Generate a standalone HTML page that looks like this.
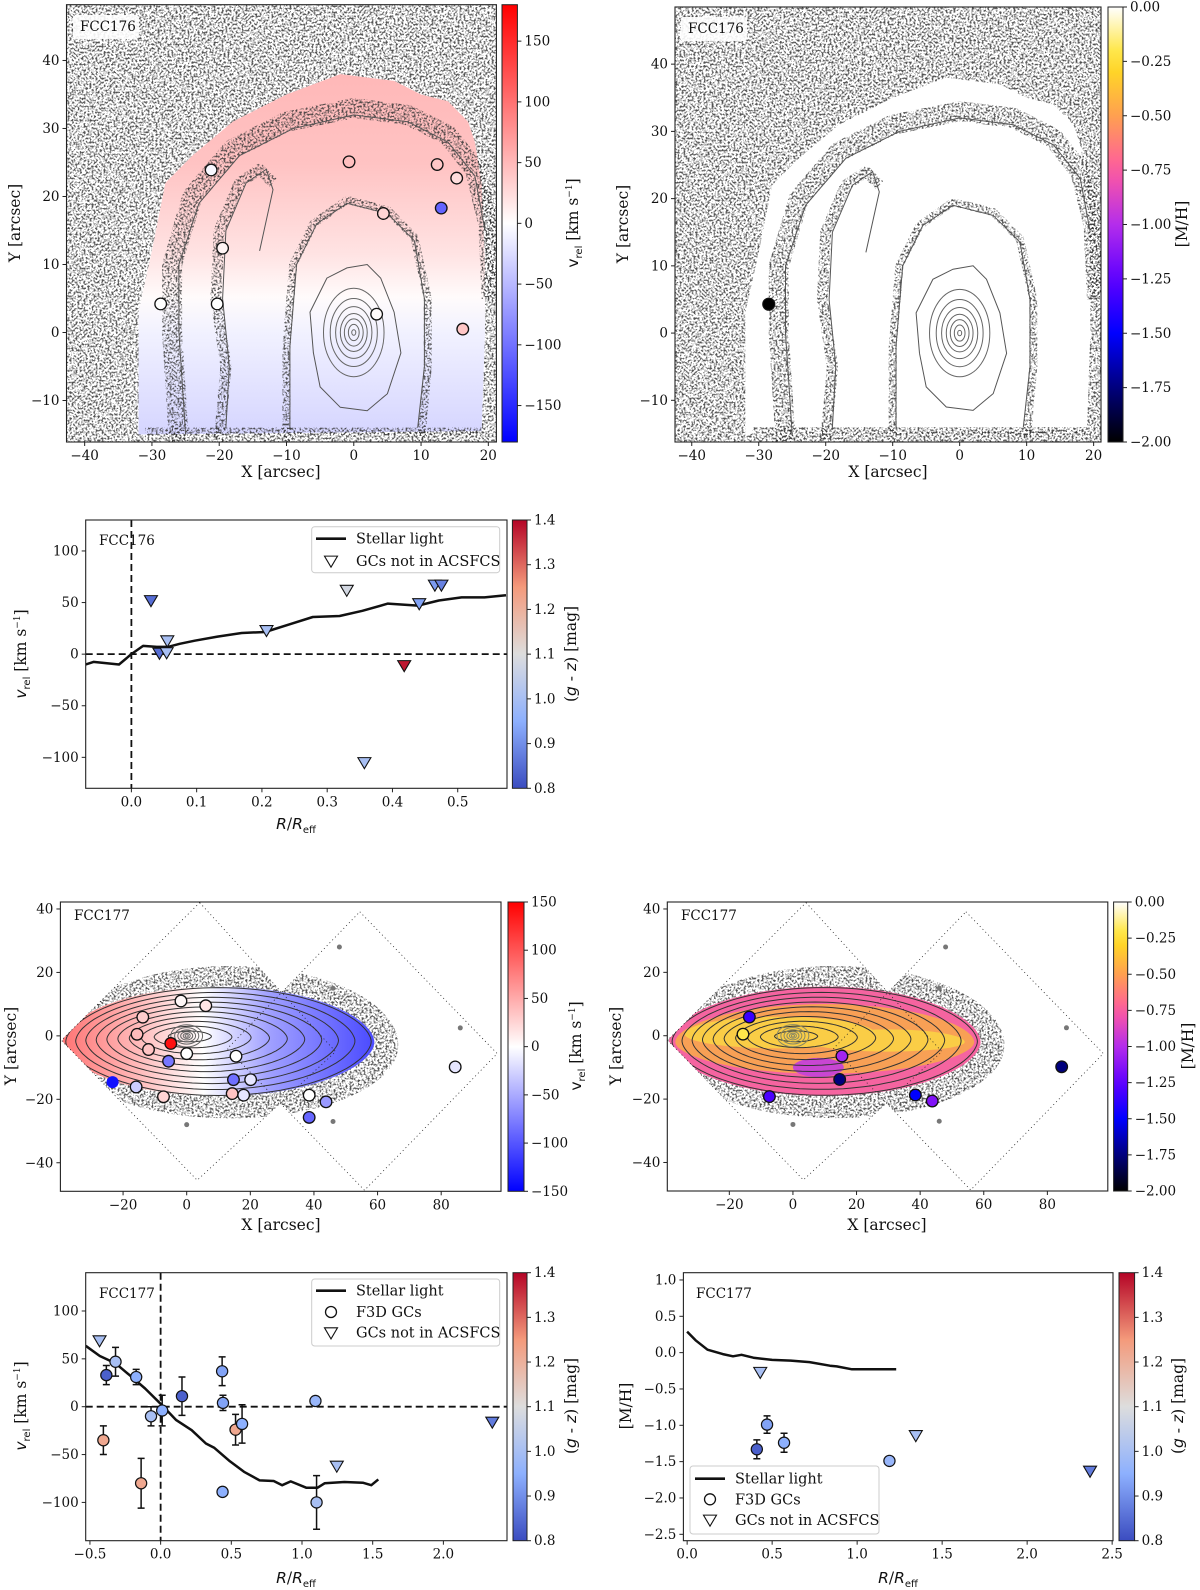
<!DOCTYPE html>
<html><head><meta charset="utf-8"><title>FCC176 / FCC177 GC kinematics</title>
<style>
html,body{margin:0;padding:0;background:#fff;}
svg{display:block;font-family:"DejaVu Serif","Liberation Serif",serif;}
.lab{font-size:15.5px;fill:#111;}
.leg{font-size:14.5px;fill:#111;}
.tk{font-size:13.5px;fill:#111;}
</style></head>
<body>
<svg id="fig" xmlns="http://www.w3.org/2000/svg" width="1200" height="1590" viewBox="0 0 1200 1590">
<defs>
<filter id="spk" filterUnits="userSpaceOnUse" x="0" y="0" width="1200" height="1590" color-interpolation-filters="sRGB">
<feTurbulence type="fractalNoise" baseFrequency="0.5" numOctaves="2" seed="5" result="n"/>
<feColorMatrix in="n" type="matrix" values="0 0 0 0 0.2  0 0 0 0 0.2  0 0 0 0 0.2  -2.6 0 0 0 1.56" result="a"/>
<feComponentTransfer in="a" result="b"><feFuncA type="discrete" tableValues="0 0.55 0.85"/></feComponentTransfer>
<feComposite in="b" in2="SourceAlpha" operator="in"/>
</filter>
</defs>

<g>
<text class="lab" x="281" y="477" text-anchor="middle">X [arcsec]</text>
<text class="lab" transform="translate(20,223) rotate(-90)" text-anchor="middle">Y [arcsec]</text>
<text class="lab" transform="translate(578,223) rotate(-90)" text-anchor="middle"><tspan font-family="DejaVu Sans">v</tspan><tspan font-family="DejaVu Sans" font-size="10" dy="4">rel</tspan><tspan dy="-4"> [km s</tspan><tspan font-size="9" dy="-6">−1</tspan><tspan dy="6">]</tspan></text>

<text class="lab" x="888" y="477" text-anchor="middle">X [arcsec]</text>
<text class="lab" transform="translate(628,224) rotate(-90)" text-anchor="middle">Y [arcsec]</text>
<text class="lab" transform="translate(1187,224) rotate(-90)" text-anchor="middle">[M/H]</text>

<text class="lab" x="296" y="829" text-anchor="middle"><tspan font-family="DejaVu Sans" font-style="italic">R</tspan>/<tspan font-family="DejaVu Sans" font-style="italic">R</tspan><tspan font-family="DejaVu Sans" font-size="10" dy="4">eff</tspan></text>
<text class="lab" transform="translate(26,654) rotate(-90)" text-anchor="middle"><tspan font-family="DejaVu Sans" font-style="italic">v</tspan><tspan font-family="DejaVu Sans" font-size="10" dy="4">rel</tspan><tspan dy="-4"> [km s</tspan><tspan font-size="9" dy="-6">−1</tspan><tspan dy="6">]</tspan></text>
<text class="lab" transform="translate(576,654) rotate(-90)" text-anchor="middle">(<tspan font-family="DejaVu Sans" font-style="italic">g</tspan> - <tspan font-family="DejaVu Sans" font-style="italic">z</tspan>) [mag]</text>

<text class="lab" x="281" y="1230" text-anchor="middle">X [arcsec]</text>
<text class="lab" transform="translate(16,1046) rotate(-90)" text-anchor="middle">Y [arcsec]</text>
<text class="lab" transform="translate(581,1046) rotate(-90)" text-anchor="middle"><tspan font-family="DejaVu Sans">v</tspan><tspan font-family="DejaVu Sans" font-size="10" dy="4">rel</tspan><tspan dy="-4"> [km s</tspan><tspan font-size="9" dy="-6">−1</tspan><tspan dy="6">]</tspan></text>

<text class="lab" x="887" y="1230" text-anchor="middle">X [arcsec]</text>
<text class="lab" transform="translate(621,1046) rotate(-90)" text-anchor="middle">Y [arcsec]</text>
<text class="lab" transform="translate(1193,1046) rotate(-90)" text-anchor="middle">[M/H]</text>

<text class="lab" x="296" y="1583" text-anchor="middle"><tspan font-family="DejaVu Sans" font-style="italic">R</tspan>/<tspan font-family="DejaVu Sans" font-style="italic">R</tspan><tspan font-family="DejaVu Sans" font-size="10" dy="4">eff</tspan></text>
<text class="lab" transform="translate(26,1406) rotate(-90)" text-anchor="middle"><tspan font-family="DejaVu Sans" font-style="italic">v</tspan><tspan font-family="DejaVu Sans" font-size="10" dy="4">rel</tspan><tspan dy="-4"> [km s</tspan><tspan font-size="9" dy="-6">−1</tspan><tspan dy="6">]</tspan></text>
<text class="lab" transform="translate(576,1406) rotate(-90)" text-anchor="middle">(<tspan font-family="DejaVu Sans" font-style="italic">g</tspan> - <tspan font-family="DejaVu Sans" font-style="italic">z</tspan>) [mag]</text>

<text class="lab" x="898" y="1583" text-anchor="middle"><tspan font-family="DejaVu Sans" font-style="italic">R</tspan>/<tspan font-family="DejaVu Sans" font-style="italic">R</tspan><tspan font-family="DejaVu Sans" font-size="10" dy="4">eff</tspan></text>
<text class="lab" transform="translate(631,1406) rotate(-90)" text-anchor="middle">[M/H]</text>
<text class="lab" transform="translate(1183,1406) rotate(-90)" text-anchor="middle">(<tspan font-family="DejaVu Sans" font-style="italic">g</tspan> - <tspan font-family="DejaVu Sans" font-style="italic">z</tspan>) [mag]</text>
</g>
</svg>

<script>
// ---------------- DATA ----------------
const a176X = [-21.2, -0.7, 12.4, 15.3, 13.0, 4.4, -19.5, -28.7, -20.3, 3.4, 16.2];
const a176Y = [23.9, 25.1, 24.7, 22.7, 18.3, 17.5, 12.4, 4.2, 4.2, 2.7, 0.5];
const a176V = [-5, 45, 40, 25, -110, 30, 8, 0, 0, 3, 40];
const b176X = [-28.5];
const b176Y = [4.3];
const b176MH = [-2.0];
const c176LineR = [-0.070,-0.058,-0.019,0,0.018,0.039,0.056,0.074,0.097,0.132,0.169,0.205,0.243,0.278,0.319,0.354,0.393,0.439,0.471,0.506,0.541,0.574];
const c176LineV = [-10,-7.5,-10,0,8,7,7,10,13,17,20.5,21.5,29,36,37,42,49,47,52,55,55,57];
const c176R = [0.030,0.043,0.054,0.055,0.207,0.330,0.357,0.418,0.441,0.465,0.475];
const c176V = [52,1,1.5,13,23,62,-105,-11,49,67,67];
const c176GZ = [0.85,0.85,1.0,1.0,1.0,1.08,1.0,1.38,0.93,0.92,0.88];
const d177X = [-1.8,6.0,-13.8,-15.6,-5.0,-12.0,0,15.5,-5.7,14.7,20.1,-15.9,-7.3,14.3,17.9,38.5,43.8,38.5,84.4];
const d177Y = [11.0,9.5,5.9,0.5,-2.4,-4.3,-5.6,-6.4,-8.0,-13.8,-13.8,-16.1,-19.2,-18.2,-18.7,-18.7,-20.8,-25.7,-9.8];
const d177V = [5,15,30,40,140,35,0,0,-80,-85,-15,-30,25,35,-15,0,-60,-90,-15];
const e177X = [-13.7,-15.7,15.4,14.7,-7.4,38.5,43.8,84.5];
const e177Y = [5.9,0.5,-6.4,-13.8,-19.2,-18.7,-20.6,-9.8];
const e177MH = [-1.35,-0.2,-1.05,-1.75,-1.3,-1.5,-1.15,-1.75];
const f177LineR = [-0.53,-0.43,-0.32,-0.22,-0.11,0,0.11,0.22,0.32,0.38,0.49,0.59,0.70,0.80,0.86,0.92,1.03,1.11,1.16,1.30,1.43,1.49,1.54];
const f177LineV = [63.6,53,45.5,33,19,3,-14,-24.5,-38.5,-43,-57,-68,-77,-77.6,-82,-78,-84.6,-84.6,-80,-78.7,-79.4,-82,-76];
const f177R = [-0.384,-0.319,-0.173,-0.405,-0.138,-0.068,0.011,0.151,0.435,0.441,0.438,0.53,0.576,1.095,1.103];
const f177V = [33,47,31,-35,-80,-10,-4,11,37,4,-89,-24,-18,6,-100];
const f177Err = [10,15,8,15,26,10,16,20,15,8,4,16,20,3,28];
const f177GZ = [0.83,1.0,0.95,1.22,1.22,1.0,0.95,0.83,0.93,0.93,0.95,1.22,0.95,0.97,1.0];
const f177TriR = [-0.432,1.246,2.346];
const f177TriV = [69,-62,-16];
const f177TriGZ = [1.0,1.0,0.87];
const g177LineR = [0,0.05,0.12,0.21,0.27,0.32,0.39,0.50,0.61,0.72,0.84,0.88,0.97,1.06,1.23];
const g177LineMH = [0.29,0.17,0.04,-0.02,-0.05,-0.03,-0.07,-0.10,-0.11,-0.13,-0.18,-0.19,-0.23,-0.23,-0.23];
const g177R = [0.41,0.47,0.57,0.56,1.19];
const g177MH = [-1.33,-0.99,-1.24,-1.66,-1.49];
const g177Err = [0.13,0.12,0.13,0.06,0.02];
const g177GZ = [0.83,0.93,0.95,1.0,0.97];
const g177TriR = [0.43,1.345,2.37];
const g177TriMH = [-0.27,-1.14,-1.63];
const g177TriGZ = [1.0,1.0,0.87];
const mapXTicks176 = [-40,-30,-20,-10,0,10,20];
const mapYTicks176 = [-10,0,10,20,30,40];
const mapXTicks177 = [-20,0,20,40,60,80];
const mapYTicks177 = [-40,-20,0,20,40];
const cXTicks = [0,0.1,0.2,0.3,0.4,0.5];
const cXLabels = ['0.0','0.1','0.2','0.3','0.4','0.5'];
const vTicks = [-100,-50,0,50,100];
const fXTicks = [-0.5,0,0.5,1,1.5,2];
const fXLabels = ['−0.5','0.0','0.5','1.0','1.5','2.0'];
const gXTicks = [0,0.5,1,1.5,2,2.5];
const gXLabels = ['0.0','0.5','1.0','1.5','2.0','2.5'];
const gYTicks = [1,0.5,0,-0.5,-1,-1.5,-2,-2.5];
const gYLabels = ['1.0','0.5','0.0','−0.5','−1.0','−1.5','−2.0','−2.5'];
const gzTicks = [0.8,0.9,1.0,1.1,1.2,1.3,1.4];
const mhTicks = [0,-0.25,-0.5,-0.75,-1,-1.25,-1.5,-1.75,-2];
const vCb176Ticks = [150,100,50,0,-50,-100,-150];
const vCb177Ticks = [150,100,50,0,-50,-100,-150];

// ---------------- HELPERS ----------------
const NS='http://www.w3.org/2000/svg';
const svg=document.getElementById('fig');
const defs=svg.querySelector('defs');
function E(tag,parent,attrs){const e=document.createElementNS(NS,tag);for(const k in attrs)e.setAttribute(k,attrs[k]);parent.appendChild(e);return e;}
function fmtNum(v){const s=String(Math.round(v*100)/100);return s.replace('-','−');}
function lerp(a,b,t){return a+(b-a)*t;}
function interpStops(stops,t){t=Math.max(0,Math.min(1,t));for(let i=0;i<stops.length-1;i++){if(t<=stops[i+1][0]){const u=(t-stops[i][0])/(stops[i+1][0]-stops[i][0]);return 'rgb('+[1,2,3].map(j=>Math.round(lerp(stops[i][j],stops[i+1][j],u))).join(',')+')';}}const l=stops[stops.length-1];return 'rgb('+l[1]+','+l[2]+','+l[3]+')';}
const CW=[[0,59,76,192],[0.25,141,176,254],[0.5,221,221,221],[0.75,244,154,123],[1,180,4,38]];
function coolwarm(gz){return interpStops(CW,(gz-0.8)/0.6);}
const MHC=[[0,0,0,0],[0.125,0,0,125],[0.25,0,0,255],[0.375,95,0,255],[0.5,180,45,235],[0.625,255,90,160],[0.75,255,160,80],[0.875,255,225,30],[1,255,255,255]];
function mhmap(v){return interpStops(MHC,(v+2)/2);}
function bwr(v,vm){const t=Math.max(0,Math.min(1,(v+vm)/(2*vm)));if(t<0.5){const c=Math.round(510*t);return 'rgb('+c+','+c+',255)';}const c=Math.round(510*(1-t));return 'rgb(255,'+c+','+c+')';}
function scales(p){return {sx:v=>p.L+(v-p.x0)/(p.x1-p.x0)*(p.R-p.L), sy:v=>p.B-(v-p.y0)/(p.y1-p.y0)*(p.B-p.T)};}
function pathFrom(pts,s,close){return pts.map((q,i)=>(i?'L':'M')+s.sx(q[0]).toFixed(1)+','+s.sy(q[1]).toFixed(1)).join('')+(close?'Z':'');}
let clipN=0;
function clipRect(p){const id='clp'+(clipN++);const c=E('clipPath',defs,{id:id});E('rect',c,{x:p.L,y:p.T,width:p.R-p.L,height:p.B-p.T});return 'url(#'+id+')';}

function axes(g,p,s,xt,xl,yt,yl){
  const f=E('rect',g,{x:p.L,y:p.T,width:p.R-p.L,height:p.B-p.T,fill:'none',stroke:'#222','stroke-width':1.1});
  
  
  xt.forEach((v,i)=>{const x=s.sx(v);
    const t=E('line',g,{x1:x,x2:x,y1:p.B,y2:p.B+4,stroke:'#222','stroke-width':1});
    
    
    const tx=E('text',g,{x:x,y:p.B+18,'text-anchor':'middle',class:'tk'});
    tx.textContent=xl?xl[i]:fmtNum(v);
    
    });
  yt.forEach((v,i)=>{const y=s.sy(v);
    const t=E('line',g,{x1:p.L-4,x2:p.L,y1:y,y2:y,stroke:'#222','stroke-width':1});
    
    
    const tx=E('text',g,{x:p.L-7,y:y+4.5,'text-anchor':'end',class:'tk'});
    tx.textContent=yl?yl[i]:fmtNum(v);
    
    });
}
let gradN=0;
function colorbar(cb,cmap,vmin,vmax,ticks,labels,name){
  const id='cbg'+(gradN++);
  const lg=E('linearGradient',defs,{id:id,x1:0,y1:1,x2:0,y2:0});
  for(let i=0;i<=20;i++){E('stop',lg,{offset:i/20,'stop-color':cmap(vmin+(vmax-vmin)*i/20)});}
  const r=E('rect',svg,{x:cb.L,y:cb.T,width:cb.R-cb.L,height:cb.B-cb.T,fill:'url(#'+id+')',stroke:'#222','stroke-width':1});
  
  
  ticks.forEach((v,i)=>{const y=cb.B-(v-vmin)/(vmax-vmin)*(cb.B-cb.T);
    const t=E('line',svg,{x1:cb.R,x2:cb.R+4,y1:y,y2:y,stroke:'#222','stroke-width':1});
    
    
    const tx=E('text',svg,{x:cb.R+7,y:y+4.5,class:'tk'});
    tx.textContent=labels?labels[i]:fmtNum(v);
    
    });
}
function tri(parent,x,y,fill,r){r=r||6.5;return E('path',parent,{d:'M'+(x-r)+','+(y-r*0.75)+'L'+(x+r)+','+(y-r*0.75)+'L'+x+','+(y+r*0.95)+'Z',fill:fill,stroke:'#111','stroke-width':1.1});}
function label(x,y,txt,name,box){
  if(box){const b=E('rect',svg,{x:x-7,y:y-16,width:66,height:24,rx:3,fill:'#fff','fill-opacity':0.9});
    
    }
  const t=E('text',svg,{x:x,y:y,class:'tk'});t.textContent=txt;
  
  
}

// ---------------- FCC176 MAPS ----------------
const dome=[[-32,-15],[-32,3],[-30,12],[-28,22],[-24,26],[-18,31],[-10,35],[-2,38],[6,37],[10,35],[14,34],[17,31],[18,28],[19,22],[19.5,10],[19.5,0],[19,-14.5]];
const bands176=[
 {w:20,pts:[[-26,-16],[-27,0],[-27,10],[-24,20],[-18,27],[-10,31],[0,33],[8,32],[14,29],[18,24],[20,16],[20.5,5]]},
 {w:11,pts:[[-20,-16],[-19,-5],[-20.5,5],[-20,15],[-17,22],[-14,24],[-12,22]]},
 {w:8,pts:[[-10,-16],[-10,-2],[-9,10],[-6,16],[-1,19.5],[5,18],[9,14],[11,5],[11,-5],[10,-16]]},
 {w:7,pts:[[-31,-14.5],[19,-14.5]]}
];
const lines176=[
 [[-25,-15],[-26,0],[-26,10],[-23,19],[-17,26],[-9,30],[0,32],[8,31],[14,28],[18,23],[19.5,15]],
 [[-19,-14],[-18.5,-5],[-19.5,5],[-19,15],[-16,22],[-13,24],[-12,21],[-14,12]],
 [[-9.5,-14],[-9.5,-2],[-8.5,10],[-5.5,16],[-1,19],[5,17.5],[9,13.5],[10.5,5],[10.5,-5],[9.5,-14]],
 [[-6,-3],[-6.5,3],[-4,8],[-1,9.5],[2,10],[4,8],[6,3],[7,-3],[5,-9],[2,-11.5],[-2,-11],[-5,-8],[-6,-3]]
];
function map176(p,colored,name){
  const s=scales(p);const g=E('g',svg,{'clip-path':clipRect(p)});
  
  
  const outside='M'+p.L+','+p.T+'H'+p.R+'V'+p.B+'H'+p.L+'Z'+pathFrom(dome,s,true);
  const sp=E('path',g,{d:outside,'fill-rule':'evenodd',fill:'#000',filter:'url(#spk)'});
  
  
  if(colored){
    const id='dg'+(gradN++);
    const lg=E('linearGradient',defs,{id:id,gradientUnits:'userSpaceOnUse',x1:0,x2:0,y1:s.sy(38),y2:s.sy(-15)});
    [[0,50],[0.25,42],[0.5,20],[0.62,3],[0.72,-10],[1,-30]].forEach(q=>E('stop',lg,{offset:q[0],'stop-color':bwr(q[1],180)}));
    const d=E('path',g,{d:pathFrom(dome,s,true),fill:'url(#'+id+')'});
    
    
  }
  bands176.forEach(b=>{const e=E('path',g,{d:pathFrom(b.pts,s,false),fill:'none',stroke:'#000','stroke-width':b.w,'stroke-linejoin':'round',filter:'url(#spk)'});
    
    });
  lines176.forEach(l=>{const e=E('path',g,{d:pathFrom(l,s,false),fill:'none',stroke:'#555','stroke-width':1});
    
    });
  const kx=(p.R-p.L)/(p.x1-p.x0),ky=(p.B-p.T)/(p.y1-p.y0);
  [[4.5,6.5],[3.5,5],[2.7,3.8],[2,2.8],[1.4,2],[0.8,1.2],[0.3,0.4]].forEach(r=>{
    const e=E('ellipse',g,{cx:s.sx(0),cy:s.sy(0),rx:r[0]*kx,ry:r[1]*ky,fill:'none',stroke:'#666','stroke-width':1});
    
    });
  return {g:g,s:s};
}
const pA={L:66.5,R:496.4,T:4.7,B:442,x0:-42.7,x1:21.2,y0:-16.1,y1:48.2};
const mA=map176(pA,true,'fcc176-velocity-map');
a176X.forEach((x,i)=>{const c=E('circle',mA.g,{cx:mA.s.sx(x),cy:mA.s.sy(a176Y[i]),r:5.8,fill:bwr(a176V[i],180),stroke:'#111','stroke-width':1.3});
  
  });
axes(svg,pA,mA.s,mapXTicks176,null,mapYTicks176,null);
colorbar({L:502,R:517.4,T:4.7,B:442},v=>bwr(v,180),-180,180,vCb176Ticks,null,'velocity-colorbar-176');
label(80,31,'FCC176','panel-a-galaxy-label',true);

const pB={L:675,R:1101,T:7,B:442,x0:-42.5,x1:21.1,y0:-16.2,y1:48.5};
const mB=map176(pB,false,'fcc176-metallicity-map');
b176X.forEach((x,i)=>{const c=E('circle',mB.g,{cx:mB.s.sx(x),cy:mB.s.sy(b176Y[i]),r:6,fill:mhmap(b176MH[i]),stroke:'#111','stroke-width':1.2});
  
  });
axes(svg,pB,mB.s,mapXTicks176,null,mapYTicks176,null);
colorbar({L:1108,R:1123,T:7,B:442},mhmap,-2,0,mhTicks,['0.00','−0.25','−0.50','−0.75','−1.00','−1.25','−1.50','−1.75','−2.00'],'metallicity-colorbar-176');
label(688,33,'FCC176','panel-b-galaxy-label',true);

// ---------------- C ----------------
const pC={L:85.7,R:507,T:520,B:788.3,x0:-0.070,x1:0.5755,y0:-130,y1:130};
(function(){
  const s=scales(pC);const g=E('g',svg,{'clip-path':clipRect(pC)});
  
  
  const h=E('line',g,{x1:pC.L,x2:pC.R,y1:s.sy(0),y2:s.sy(0),stroke:'#111','stroke-width':1.8,'stroke-dasharray':'7,4'});
  
  
  const v=E('line',g,{x1:s.sx(0),x2:s.sx(0),y1:pC.T,y2:pC.B,stroke:'#111','stroke-width':1.8,'stroke-dasharray':'7,4'});
  
  
  const ln=E('path',g,{d:c176LineR.map((r,i)=>(i?'L':'M')+s.sx(r).toFixed(1)+','+s.sy(c176LineV[i]).toFixed(1)).join(''),fill:'none',stroke:'#111','stroke-width':2.5,'stroke-linejoin':'round'});
  
  
  c176R.forEach((r,i)=>{const t=tri(g,s.sx(r),s.sy(c176V[i]),coolwarm(c176GZ[i]));
    
    });
  axes(svg,pC,s,cXTicks,cXLabels,vTicks,['−100','−50','0','50','100']);
})();
colorbar({L:512.4,R:527,T:520,B:788.3},coolwarm,0.8,1.4,gzTicks,['0.8','0.9','1.0','1.1','1.2','1.3','1.4'],'color-colorbar-c');
label(99,545,'FCC176','panel-c-galaxy-label',false);
function legend(box,rows,name){
  const b=E('rect',svg,{x:box.x,y:box.y,width:box.w,height:box.h,rx:3,fill:'#fff',stroke:'#ccc','stroke-width':1});
  
  
  rows.forEach(r=>{
    if(r.kind==='line'){const l=E('line',svg,{x1:box.mx-15,x2:box.mx+15,y1:r.y,y2:r.y,stroke:'#111','stroke-width':2.6});
      
      }
    else if(r.kind==='circ'){const c=E('circle',svg,{cx:box.mx,cy:r.y,r:5.5,fill:'#fff',stroke:'#111','stroke-width':1.3});
      
      }
    else {const t=tri(svg,box.mx,r.y,'#fff');
      
      }
    const tx=E('text',svg,{x:box.tx,y:r.y+5,class:'leg'});tx.textContent=r.text;
    
    
  });
}
legend({x:311.7,y:526.7,w:188,h:46,mx:331,tx:356},[{kind:'line',y:538.7,text:'Stellar light'},{kind:'tri',y:561,text:'GCs not in ACSFCS'}],'legend-c');

// ---------------- FCC177 MAPS ----------------
function lens(cx,cy,a,ht,hb,pw,n){n=n||60;const pts=[];for(let i=0;i<=n;i++){const t=Math.PI*i/n;pts.push([cx+a*Math.cos(t),cy+ht*Math.pow(Math.sin(t),pw)]);}for(let i=1;i<n;i++){const t=Math.PI*i/n;pts.push([cx-a*Math.cos(t),cy-hb*Math.pow(Math.sin(t),pw)]);}return pts;}
const dia1=[[4.1,42],[46.8,-5],[3.3,-45.5],[-39.4,-1.4]];
const dia2=[[54.4,39.1],[97.6,-5.6],[55.9,-48.7],[12.8,-4]];
function map177(p,mode,name){
  const s=scales(p);const g=E('g',svg,{'clip-path':clipRect(p)});
  
  
  const cid='dc'+(clipN++);const cp=E('clipPath',defs,{id:cid});
  E('path',cp,{d:pathFrom(dia1,s,true)+pathFrom(dia2,s,true)});
  const inner=E('g',g,{'clip-path':'url(#'+cid+')'});
  const halo=E('path',inner,{d:pathFrom(lens(13.5,-3,53,25,23,1.0),s,true),fill:'#000',filter:'url(#spk)'});
  
  
  if(mode==='v'){
    const id='lg'+(gradN++);
    const lg=E('linearGradient',defs,{id:id,gradientUnits:'userSpaceOnUse',x1:s.sx(-38),x2:s.sx(58),y1:0,y2:0});
    [[0,80],[0.24,40],[0.45,0],[0.66,-55],[1,-105]].forEach(q=>E('stop',lg,{offset:q[0],'stop-color':bwr(q[1],150)}));
    const c=E('path',inner,{d:pathFrom(lens(10,-2,49,17.5,17,1.1),s,true),fill:'url(#'+id+')'});
    
    
  } else {
    [[lens(10,-2,49,17.5,17,1.1),'rgb(245,100,160)'],[lens(10,-2,47,12,10,1.1),'rgb(248,160,85)'],[lens(-4,0.5,30,5.5,4.5,1.0),'rgb(250,205,70)'],[lens(30,-2,24,4,3,1.0),'rgb(250,205,70)']].forEach(q=>{
      const c=E('path',inner,{d:pathFrom(q[0],s,true),fill:q[1]});
      
      });
    const pb=E('ellipse',inner,{cx:s.sx(8),cy:s.sy(-10),rx:8*3.18,ry:3*3.17,fill:'rgb(200,70,210)'});
    
    
  }
  for(let k=1;k<=10;k++){const f=k/10;
    const e=E('path',inner,{d:pathFrom(lens(10*f,-1.8*f,48*Math.pow(f,0.85),17*f,17*f,1.15),s,true),fill:'none',stroke:'#333','stroke-width':1});
    
    }
  [[5,3.5],[3.8,2.6],[2.8,1.9],[1.9,1.3],[1.1,0.8],[0.5,0.4]].forEach(r=>{
    const e=E('ellipse',inner,{cx:s.sx(0),cy:s.sy(0),rx:r[0]*3.18,ry:r[1]*3.17,fill:'none',stroke:mode==='v'?'#666':'#886',"stroke-width":1});
    
    });
  [[0,-28],[46,-27],[48,28],[46,15],[86,2.5]].forEach(q=>{const b=E('circle',inner,{cx:s.sx(q[0]),cy:s.sy(q[1]),r:2.5,fill:'#777'});
    
    });
  [dia1,dia2].forEach(d=>{const e=E('path',g,{d:pathFrom(d,s,true),fill:'none',stroke:'#222','stroke-width':0.8,'stroke-dasharray':'1,3'});
    
    });
  return {g:g,s:s};
}
const pD={L:60.4,R:501,T:902,B:1191.3,x0:-39.7,x1:98.8,y0:-49,y1:42.2};
const mD=map177(pD,'v','fcc177-velocity-map');
const blob=E('circle',mD.g,{cx:mD.s.sx(-23.3),cy:mD.s.sy(-14.6),r:6,fill:bwr(-140,150)});


d177X.forEach((x,i)=>{const c=E('circle',mD.g,{cx:mD.s.sx(x),cy:mD.s.sy(d177Y[i]),r:5.8,fill:bwr(d177V[i],150),stroke:'#111','stroke-width':1.3});
  
  });
axes(svg,pD,mD.s,mapXTicks177,mapXTicks177.map(fmtNum),mapYTicks177,null);
colorbar({L:508,R:524,T:902,B:1191.3},v=>bwr(v,150),-150,150,vCb177Ticks,null,'velocity-colorbar-177');
label(74,920,'FCC177','panel-d-galaxy-label',false);

const pE={L:667.3,R:1107.8,T:902,B:1191,x0:-39.5,x1:99,y0:-49,y1:42.2};
const mE=map177(pE,'mh','fcc177-metallicity-map');
e177X.forEach((x,i)=>{const c=E('circle',mE.g,{cx:mE.s.sx(x),cy:mE.s.sy(e177Y[i]),r:5.8,fill:mhmap(e177MH[i]),stroke:'#111','stroke-width':1.3});
  
  });
axes(svg,pE,mE.s,mapXTicks177,null,mapYTicks177,null);
colorbar({L:1113.6,R:1127.7,T:902,B:1191},mhmap,-2,0,mhTicks,['0.00','−0.25','−0.50','−0.75','−1.00','−1.25','−1.50','−1.75','−2.00'],'metallicity-colorbar-177');
label(681,920,'FCC177','panel-e-galaxy-label',false);

// ---------------- F ----------------
function errPts(g,s,xs,ys,es,gz,name){
  xs.forEach((x,i)=>{const X=s.sx(x),y1=s.sy(ys[i]-es[i]),y2=s.sy(ys[i]+es[i]);
    const e=E('path',g,{d:'M'+X+','+y1+'V'+y2+'M'+(X-3.5)+','+y1+'H'+(X+3.5)+'M'+(X-3.5)+','+y2+'H'+(X+3.5),stroke:'#111','stroke-width':1.5,fill:'none'});
    
    
    const c=E('circle',g,{cx:X,cy:s.sy(ys[i]),r:5.6,fill:coolwarm(gz[i]),stroke:'#111','stroke-width':1.2});
    
    });
}
const pF={L:85.7,R:507,T:1272.7,B:1540.7,x0:-0.53,x1:2.45,y0:-140,y1:140};
(function(){
  const s=scales(pF);const g=E('g',svg,{'clip-path':clipRect(pF)});
  
  
  const h=E('line',g,{x1:pF.L,x2:pF.R,y1:s.sy(0),y2:s.sy(0),stroke:'#111','stroke-width':1.8,'stroke-dasharray':'7,4'});
  
  
  const v=E('line',g,{x1:s.sx(0),x2:s.sx(0),y1:pF.T,y2:pF.B,stroke:'#111','stroke-width':1.8,'stroke-dasharray':'7,4'});
  
  
  const ln=E('path',g,{d:f177LineR.map((r,i)=>(i?'L':'M')+s.sx(r).toFixed(1)+','+s.sy(f177LineV[i]).toFixed(1)).join(''),fill:'none',stroke:'#111','stroke-width':2.5,'stroke-linejoin':'round'});
  
  
  errPts(g,s,f177R,f177V,f177Err,f177GZ,'f3d-gc-marker');
  f177TriR.forEach((r,i)=>{const t=tri(g,s.sx(r),s.sy(f177TriV[i]),coolwarm(f177TriGZ[i]));
    
    });
  axes(svg,pF,s,fXTicks,fXLabels,vTicks,['−100','−50','0','50','100']);
})();
colorbar({L:513,R:527,T:1272.7,B:1540.7},coolwarm,0.8,1.4,gzTicks,['0.8','0.9','1.0','1.1','1.2','1.3','1.4'],'color-colorbar-f');
label(99,1298,'FCC177','panel-f-galaxy-label',false);
legend({x:311.7,y:1279,w:188,h:67,mx:331,tx:356},[{kind:'line',y:1290.7,text:'Stellar light'},{kind:'circ',y:1312,text:'F3D GCs'},{kind:'tri',y:1332.7,text:'GCs not in ACSFCS'}],'legend-f');

// ---------------- G ----------------
const pG={L:683.4,R:1113,T:1272.7,B:1540.7,x0:-0.022,x1:2.505,y0:-2.588,y1:1.10};
(function(){
  const s=scales(pG);const g=E('g',svg,{'clip-path':clipRect(pG)});
  
  
  const ln=E('path',g,{d:g177LineR.map((r,i)=>(i?'L':'M')+s.sx(r).toFixed(1)+','+s.sy(g177LineMH[i]).toFixed(1)).join(''),fill:'none',stroke:'#111','stroke-width':2.5,'stroke-linejoin':'round'});
  
  
  errPts(g,s,g177R,g177MH,g177Err,g177GZ,'f3d-gc-marker');
  g177TriR.forEach((r,i)=>{const t=tri(g,s.sx(r),s.sy(g177TriMH[i]),coolwarm(g177TriGZ[i]));
    
    });
  axes(svg,pG,s,gXTicks,gXLabels,gYTicks,gYLabels);
})();
colorbar({L:1119,R:1134.6,T:1272.7,B:1540.7},coolwarm,0.8,1.4,gzTicks,['0.8','0.9','1.0','1.1','1.2','1.3','1.4'],'color-colorbar-g');
label(696,1298,'FCC177','panel-g-galaxy-label',false);
legend({x:690,y:1466,w:189,h:68,mx:710,tx:735},[{kind:'line',y:1478.7,text:'Stellar light'},{kind:'circ',y:1499.3,text:'F3D GCs'},{kind:'tri',y:1520,text:'GCs not in ACSFCS'}],'legend-g');
</script>
</body></html>
